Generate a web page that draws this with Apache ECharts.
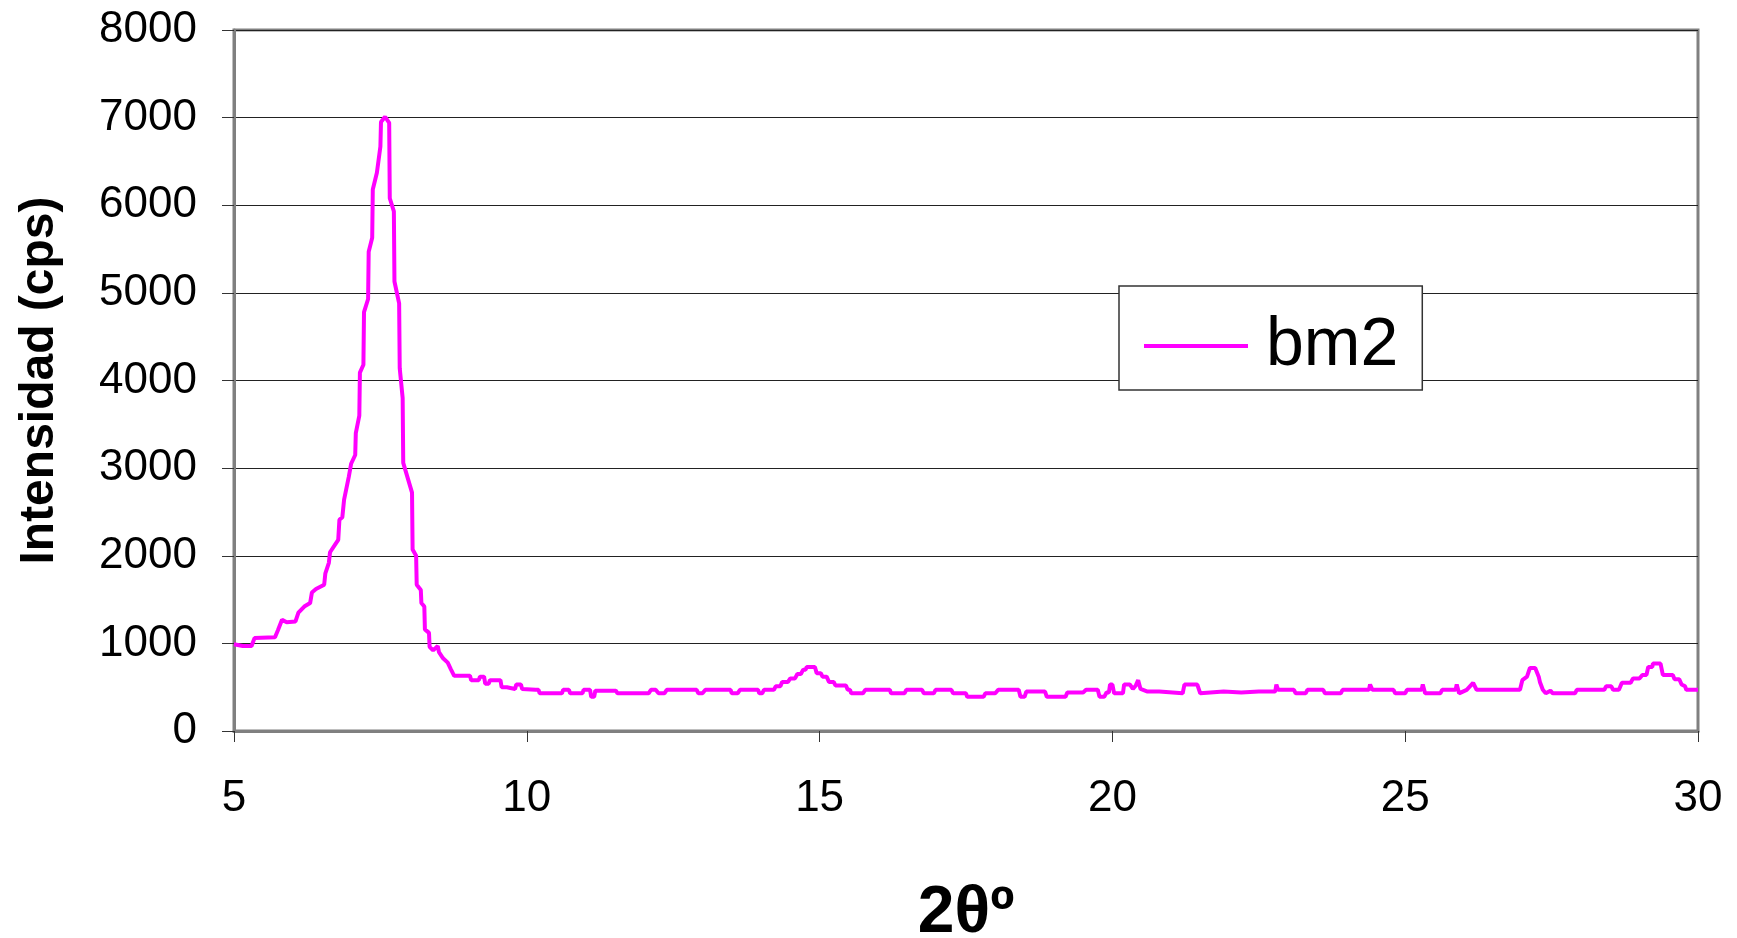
<!DOCTYPE html>
<html>
<head>
<meta charset="utf-8">
<script src="https://cdn.jsdelivr.net/npm/echarts@6/dist/echarts.min.js"></script>
<style>
  html, body { margin: 0; padding: 0; background: #fff; }
  #chart { width: 1737px; height: 938px; }
</style>
</head>
<body>
<div id="chart"></div>
<script>
// 2-theta (degrees) and intensity (cps)
var theta = [
  5.00, 5.15, 5.30, 5.35, 5.70, 5.75, 5.82, 5.90, 6.05, 6.10, 6.20, 6.30, 6.33, 6.40, 6.54, 6.56,
  6.62, 6.64, 6.72, 6.78, 6.80, 6.85, 6.88, 6.96, 7.00, 7.07, 7.08, 7.14, 7.15, 7.21, 7.22, 7.29,
  7.30, 7.36, 7.37, 7.44, 7.50, 7.51, 7.58, 7.65, 7.66, 7.73, 7.74, 7.82, 7.83, 7.88, 7.89, 8.04,
  8.05, 8.11, 8.12, 8.19, 8.20, 8.25, 8.26, 8.33, 8.34, 8.40, 8.48, 8.50, 8.57, 8.65, 8.70, 8.76,
  9.03, 9.05, 9.18, 9.20, 9.27, 9.29, 9.35, 9.37, 9.55, 9.57, 9.66, 9.68, 9.80, 9.82, 9.90, 9.92,
  10.15, 10.20, 10.22, 10.60, 10.62, 10.72, 10.74, 10.95, 10.97, 11.08, 11.10, 11.15, 11.17, 11.52, 11.55, 12.08,
  12.12, 12.20, 12.25, 12.35, 12.39, 12.90, 12.93, 13.00, 13.05, 13.48, 13.50, 13.60, 13.64, 13.95, 13.97, 14.02,
  14.05, 14.22, 14.25, 14.33, 14.36, 14.46, 14.50, 14.58, 14.62, 14.68, 14.72, 14.76, 14.78, 14.92, 14.95, 15.02,
  15.05, 15.12, 15.16, 15.24, 15.27, 15.45, 15.48, 15.52, 15.54, 15.74, 15.78, 16.20, 16.22, 16.45, 16.48, 16.75,
  16.78, 16.95, 16.98, 17.25, 17.28, 17.50, 17.52, 17.80, 17.83, 18.00, 18.05, 18.40, 18.43, 18.50, 18.53, 18.85,
  18.88, 19.20, 19.23, 19.50, 19.55, 19.75, 19.78, 19.86, 19.90, 19.94, 19.96, 20.00, 20.03, 20.18, 20.20, 20.30,
  20.35, 20.40, 20.44, 20.48, 20.60, 20.80, 20.83, 21.20, 21.23, 21.45, 21.50, 21.90, 22.20, 22.50, 22.78, 22.80,
  22.83, 23.10, 23.13, 23.30, 23.33, 23.60, 23.63, 23.90, 23.93, 24.38, 24.40, 24.44, 24.80, 24.83, 25.00, 25.03,
  25.28, 25.30, 25.34, 25.60, 25.63, 25.86, 25.88, 25.92, 26.05, 26.16, 26.22, 26.96, 27.00, 27.08, 27.13, 27.22,
  27.28, 27.30, 27.35, 27.40, 27.48, 27.52, 27.90, 27.93, 28.40, 28.43, 28.52, 28.55, 28.65, 28.70, 28.85, 28.89,
  29.00, 29.05, 29.12, 29.15, 29.22, 29.23, 29.36, 29.40, 29.57, 29.60, 29.68, 29.72, 29.78, 29.80, 30.00
];
var intensity = [
  990, 970, 970, 1060, 1070, 1150, 1270, 1240, 1250, 1350, 1420, 1460, 1580, 1620, 1670, 1800,
  1920, 2040, 2120, 2180, 2410, 2440, 2640, 2900, 3050, 3150, 3400, 3600, 4090, 4180, 4780, 4930,
  5470, 5630, 6180, 6370, 6670, 6950, 7010, 6940, 6080, 5930, 5130, 4880, 4140, 3800, 3060, 2720,
  2070, 2000, 1670, 1610, 1460, 1420, 1160, 1120, 960, 920, 970, 900, 830, 780, 710, 630,
  630, 580, 580, 620, 620, 540, 540, 580, 580, 500, 500, 480, 480, 530, 530, 480,
  470, 470, 430, 430, 470, 470, 430, 430, 470, 470, 390, 390, 460, 460, 430, 430,
  470, 470, 430, 430, 470, 470, 430, 430, 470, 470, 430, 430, 470, 470, 430, 430,
  470, 470, 510, 510, 560, 560, 600, 600, 650, 650, 700, 700, 730, 730, 660, 660,
  620, 620, 560, 560, 520, 520, 470, 470, 430, 430, 470, 470, 430, 430, 470, 470,
  430, 430, 470, 470, 430, 430, 390, 390, 430, 430, 470, 470, 390, 390, 450, 450,
  390, 390, 440, 440, 470, 470, 390, 390, 440, 440, 530, 530, 430, 430, 530, 530,
  480, 520, 580, 480, 450, 450, 430, 430, 530, 530, 430, 450, 440, 450, 450, 530,
  470, 470, 430, 430, 470, 470, 430, 430, 470, 470, 530, 470, 470, 430, 430, 470,
  470, 530, 430, 430, 470, 470, 530, 430, 470, 550, 470, 470, 580, 620, 720, 720,
  620, 560, 470, 430, 460, 430, 430, 470, 470, 510, 510, 470, 470, 550, 550, 600,
  600, 640, 640, 730, 730, 770, 770, 640, 640, 590, 590, 530, 510, 470, 470
];
var xTicks = [5, 10, 15, 20, 25, 30];
var yTicks = [0, 1000, 2000, 3000, 4000, 5000, 6000, 7000, 8000];
var seriesName = 'bm2';

var font = '"Liberation Sans", Arial, Helvetica, sans-serif';
var chart = echarts.init(document.getElementById('chart'), null, { renderer: 'canvas' });

chart.setOption({
  animation: false,
  backgroundColor: '#fff',
  textStyle: { fontFamily: font },
  grid: {
    left: 234,
    right: 39,
    top: 30,
    bottom: 207,
    outerBoundsMode: 'none',
    containLabel: false,
    show: true,
    borderColor: '#808080',
    borderWidth: 3
  },
  legend: {
    left: 1119,
    top: 286,
    orient: 'vertical',
    icon: 'rect',
    itemWidth: 104,
    itemHeight: 4,
    padding: [26, 24, 10, 25],
    backgroundColor: '#fff',
    borderColor: '#333',
    borderWidth: 1.5,
    borderRadius: 0,
    textStyle: { fontSize: 68, color: '#000', fontFamily: font, padding: [0, 0, 0, 13] },
    data: [seriesName]
  },
  xAxis: {
    type: 'value',
    min: xTicks[0],
    max: xTicks[xTicks.length - 1],
    interval: 5,
    name: '2θº',
    nameLocation: 'middle',
    nameGap: 150,
    nameTextStyle: { fontSize: 66, fontWeight: 'bold', color: '#000', fontFamily: font },
    axisLine: { lineStyle: { color: '#808080', width: 3 } },
    axisTick: { show: true, length: 11, lineStyle: { color: '#333', width: 1 } },
    axisLabel: { fontSize: 44, color: '#000', margin: 46, fontFamily: font },
    splitLine: { show: false }
  },
  yAxis: {
    type: 'value',
    min: yTicks[0],
    max: yTicks[yTicks.length - 1],
    interval: 1000,
    name: 'Intensidad (cps)',
    nameLocation: 'middle',
    nameGap: 170,
    nameTextStyle: { fontSize: 48, fontWeight: 'bold', color: '#000', fontFamily: font },
    axisLine: { show: true, lineStyle: { color: '#808080', width: 3 } },
    axisTick: { show: true, length: 12, lineStyle: { color: '#333', width: 1 } },
    axisLabel: {
      fontSize: 44, color: '#000', margin: 37, fontFamily: font,
      formatter: function(v) { return String(v); }
    },
    splitLine: { show: true, lineStyle: { color: '#222', width: 1 } }
  },
  series: [{
    name: seriesName,
    type: 'line',
    data: theta.map(function(t, i) { return [t, intensity[i]]; }),
    showSymbol: false,
    symbol: 'none',
    itemStyle: { color: '#FF00FF' },
    lineStyle: { color: '#FF00FF', width: 4 },
    z: 3
  }]
});

window.addEventListener('resize', function() { chart.resize(); });
</script>
</body>
</html>
